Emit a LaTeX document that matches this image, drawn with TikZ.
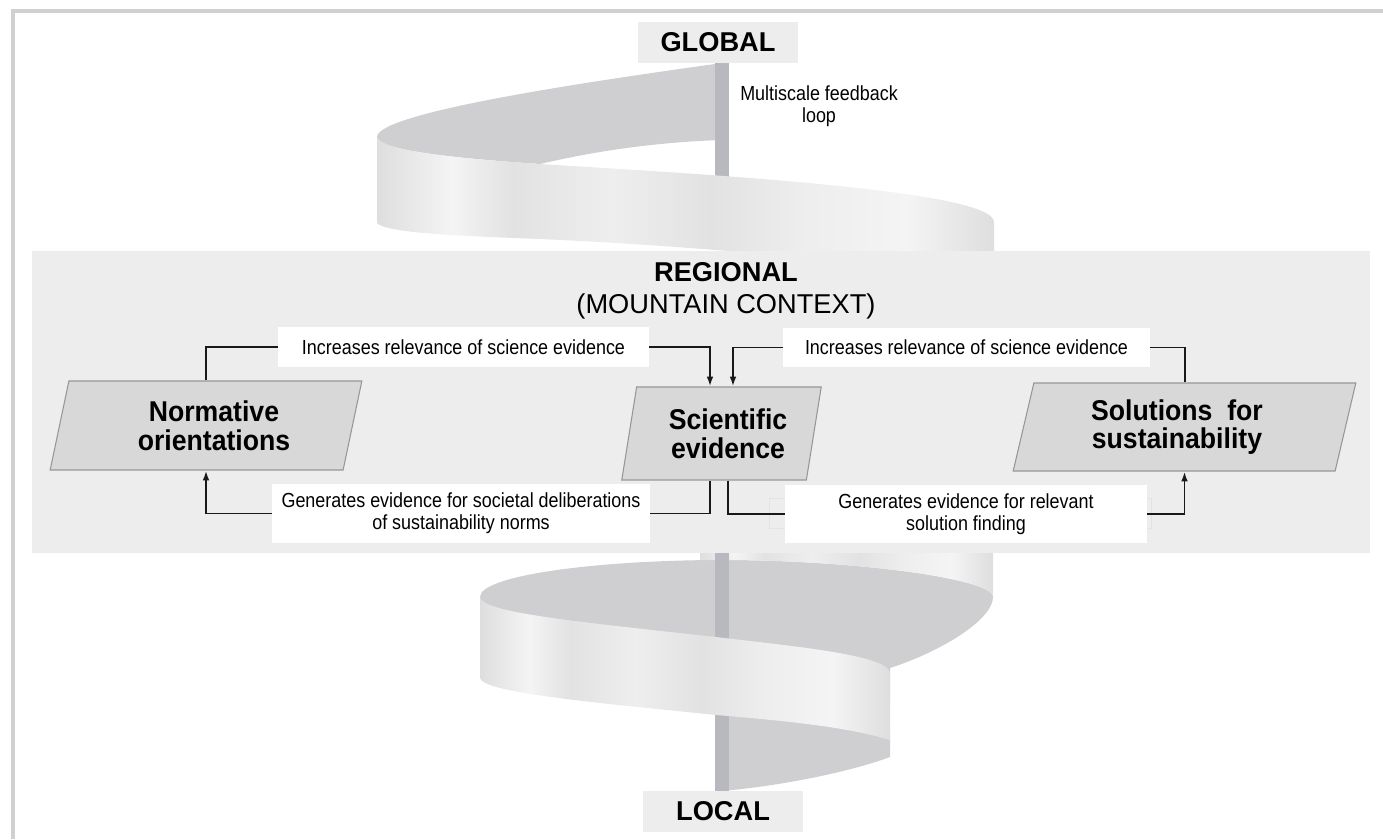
\documentclass[tikz,border=0pt]{standalone}
\usepackage{fontspec}
\setmainfont{Liberation Sans}
\newfontfamily\narrowfont[FakeStretch=0.88]{Liberation Sans}
\newfontfamily\headfont[FakeStretch=0.93]{Liberation Sans}
\usetikzlibrary{arrows.meta,shapes.geometric,positioning,calc}
\definecolor{framegray}{RGB}{208,208,210}
\definecolor{regiongray}{RGB}{237,237,237}
\definecolor{innergray}{RGB}{207,207,209}
\definecolor{polegray}{RGB}{184,185,190}
\definecolor{paragray}{RGB}{216,216,216}
\definecolor{paraline}{RGB}{150,150,150}
\definecolor{ribA}{RGB}{222,222,222}
\definecolor{ribB}{RGB}{244,244,244}
\definecolor{ribC}{RGB}{226,226,226}
\definecolor{ribD}{RGB}{238,238,238}
\pgfdeclarehorizontalshading{ribbon}{100bp}{color(0bp)=(ribA); color(25bp)=(ribA);
    color(31bp)=(ribB); color(36bp)=(ribC); color(44bp)=(ribD); color(52bp)=(ribC);
    color(60bp)=(ribD); color(68bp)=(ribB); color(75bp)=(ribA); color(100bp)=(ribA)}
\tikzset{
    tier/.style={
        rectangle,
        fill=regiongray,
        inner sep=0pt,
        minimum width=3.2cm,
        minimum height=0.82cm,
        font=\bfseries\fontsize{15.5}{16}\selectfont,
    },
    para/.style={
        trapezium,
        trapezium left angle=77,
        trapezium right angle=103,
        trapezium stretches=true,
        draw=paraline,
        line width=0.6pt,
        fill=paragray,
        inner sep=0pt,
        align=center,
        font=\headfont\bfseries\fontsize{16.3}{16.4}\selectfont,
    },
    note/.style={
        rectangle,
        fill=white,
        inner sep=0pt,
        align=center,
        font=\narrowfont\fontsize{11.6}{12.5}\selectfont,
    },
    link/.style={
        draw,
        line width=1.1pt,
        black!90,
    },
    feed/.style={
        link,
        -{Latex[length=5.6pt,width=3.8pt]},
    },
    ribbonside/.style={
        shading=ribbon,
    },
}

\begin{document}
\begin{tikzpicture}[x=0.02cm,y=-0.02cm]
    \useasboundingbox (0,0) rectangle (1383,839);
    \draw[framegray, line width=2.3pt] (1383,11) -- (13,11) -- (13,839);

    % upper turn of the spiral
    \fill[innergray] (722,63) .. controls (600,80) and (377,112) .. (377,137)
        .. controls (379,150) and (450,158) .. (540,164)
        .. controls (600,150) and (660,142) .. (722,140) -- cycle;
    \fill[polegray] (715,63) rectangle (729,180);
    \shade[ribbonside] (377,137) .. controls (379,150) and (450,158) .. (540,164)
        .. controls (700,174) and (994,190) .. (994,222) -- (994,280)
        .. controls (900,265) and (700,246) .. (540,239)
        .. controls (460,236) and (385,233) .. (377,223) -- cycle;

    % lower turn of the spiral
    \fill[innergray] (480,597) .. controls (480,575) and (600,560) .. (722,560)
        .. controls (850,560) and (993,578) .. (993,597)
        .. controls (993,620) and (940,652) .. (890,668) -- (890,700) -- (480,650) -- cycle;
    \shade[ribbonside] (700,553) -- (993,553) -- (993,597)
        .. controls (993,578) and (850,560) .. (722,560) -- (700,560) -- cycle;
    \fill[innergray] (722,712) -- (890,735) -- (890,757)
        .. controls (850,772) and (780,786) .. (722,791) -- cycle;
    \fill[polegray] (715,553) rectangle (729,791);
    \shade[ribbonside] (480,597) .. controls (483,612) and (560,620) .. (716,637)
        .. controls (810,648) and (888,656) .. (890,673) -- (890,740)
        .. controls (850,728) and (800,722) .. (716,715)
        .. controls (600,703) and (483,693) .. (480,678) -- cycle;

    \node[tier] (Glob) at (718,42.5) {GLOBAL};
    \node[tier] (Loc) at (723,811.5) {LOCAL};
    \node[align=center, font=\narrowfont\fontsize{11.6}{12.5}\selectfont] (Loop) at (819,106) {Multiscale feedback\\loop};

    \node[fill=regiongray, inner sep=0pt, minimum width=26.76cm, minimum height=6.04cm] (Reg) at (701,402) {};
    \node[align=center, font=\fontsize{15.5}{18}\selectfont] (RegT) at (726,291) {\textbf{REGIONAL}\\(MOUNTAIN CONTEXT)};

    \draw[gray!22, line width=0.5pt] (769,498) rectangle (1151,528);

    \node[para, minimum width=6.24cm, minimum height=1.78cm] (Norm) at (206,425.5) {\hspace*{0.32cm}Normative\\\hspace*{0.32cm}orientations};
    \node[para, minimum width=4.02cm, minimum height=1.86cm] (Sci) at (721.5,433.5) {\hspace*{0.26cm}Scientific\\\hspace*{0.26cm}evidence};
    \node[para, minimum width=6.86cm, minimum height=1.76cm] (Sol) at (1184.5,427) {Solutions\ \ for\hspace*{0.3cm}\\sustainability\hspace*{0.3cm}};

    \node[note, minimum width=7.42cm, minimum height=0.8cm] (IncL) at (463.5,347) {Increases relevance of science evidence};
    \node[note, minimum width=7.34cm, minimum height=0.78cm] (IncR) at (966.5,347.5) {Increases relevance of science evidence};
    \node[note, minimum width=7.56cm, minimum height=1.18cm] (GenL) at (461,513.5) {Generates evidence for societal deliberations\\of sustainability norms};
    \node[note, minimum width=7.24cm, minimum height=1.16cm] (GenR) at (966,514) {Generates evidence for relevant\\solution finding};

    \draw[link] (Norm) |- (IncL);
    \draw[feed] (IncL) -| ($(Sci.center |- Sci.north)+(-11.5,0)$);
    \draw[link] (Sol) |- (IncR);
    \draw[feed] (IncR) -| ($(Sci.center |- Sci.north)+(11.5,0)$);
    \draw[link] ($(Sci.center |- Sci.south)+(-11.5,0)$) |- (GenL);
    \draw[feed] (GenL) -| (Norm);
    \draw[link] ($(Sci.center |- Sci.south)+(6.5,0)$) |- (GenR);
    \draw[feed] (GenR) -| (Sol);
\end{tikzpicture}
\end{document}
